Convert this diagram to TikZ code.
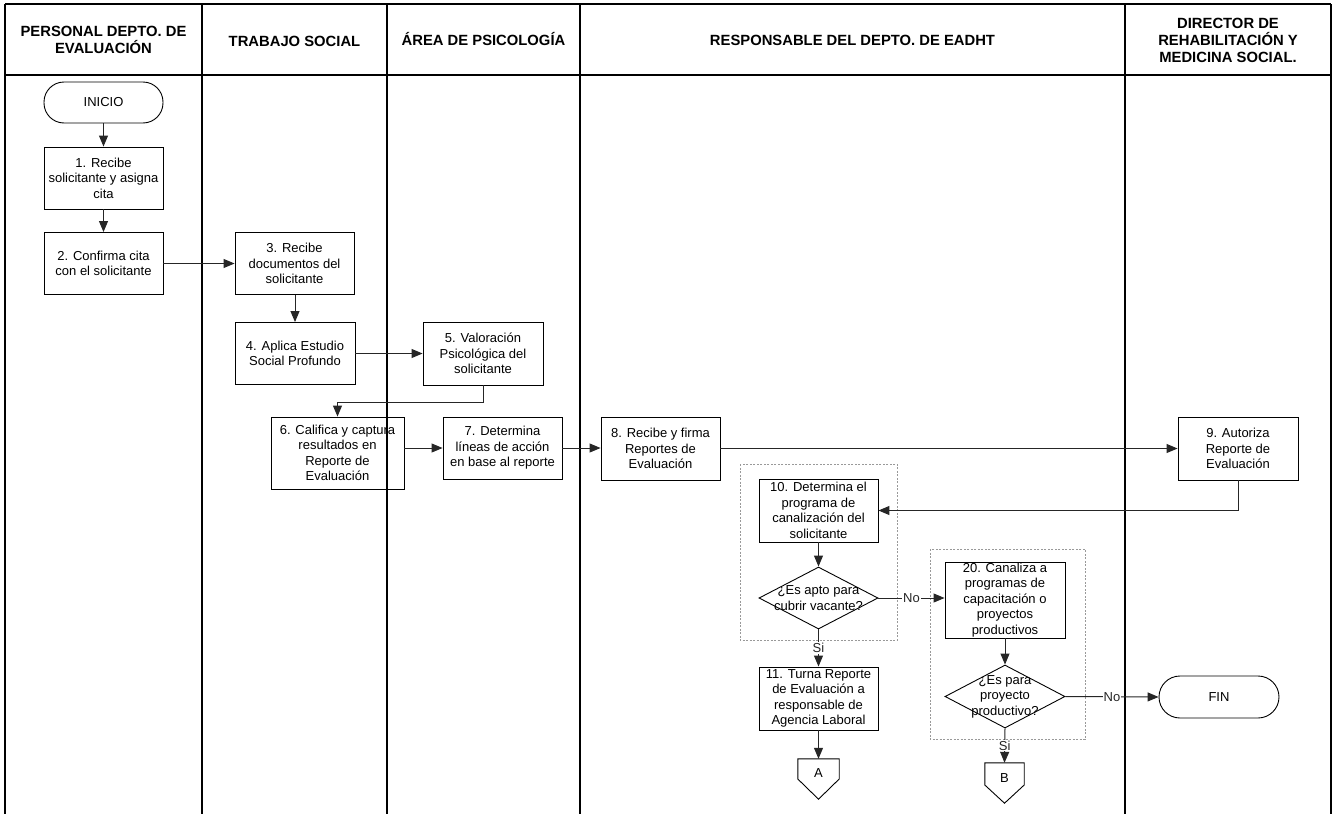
\documentclass[tikz,border=0pt]{standalone}
\usepackage{fontspec}
\setmainfont{Liberation Sans}
\usetikzlibrary{shapes.geometric,arrows.meta,calc}
\begin{document}
\begin{tikzpicture}[x=1pt,y=-1pt,
  lane/.style={line width=2pt,black},
  hdr/.style={align=center,inner sep=0pt,font=\fontsize{14.8}{17}\selectfont\bfseries},
  proc/.style={draw,line width=0.9pt,minimum width=119pt,minimum height=62pt,inner sep=0pt,align=center,font=\fontsize{13}{15.5}\selectfont},
  term/.style={proc,rounded corners=20pt,minimum height=41pt},
  decis/.style={diamond,draw,line width=0.9pt,minimum width=119pt,minimum height=62pt,inner sep=0pt},
  dtext/.style={align=center,inner sep=0pt,font=\fontsize{13}{15.5}\selectfont},
  offpg/.style={minimum width=40pt,minimum height=40pt,inner sep=0pt},
  grp/.style={draw=gray!80,dash pattern=on 2pt off 1.5pt,line width=0.6pt},
  arr/.style={-{Triangle[length=11pt,width=9pt]},line width=1pt,black!85},
  lbl/.style={fill=white,inner sep=1pt,font=\fontsize{13}{15.5}\selectfont}
]
\useasboundingbox (0,0) rectangle (1336,814);
% lanes
\draw[lane] (5,4) -- (1331,4);
\draw[lane] (5,75) -- (1331,75);
\foreach \x in {5,202,387,580,1125,1331} \draw[lane] (\x,4) -- (\x,814);
% headers
\node[hdr] (h1) at (103.5,40) {PERSONAL DEPTO. DE\\EVALUACIÓN};
\node[hdr] (h2) at (294.5,41) {TRABAJO SOCIAL};
\node[hdr] (h3) at (483.5,39) {ÁREA DE PSICOLOGÍA};
\node[hdr] (h4) at (852.5,40) {RESPONSABLE DEL DEPTO. DE EADHT};
\node[hdr] (h5) at (1228,40) {DIRECTOR DE\\REHABILITACIÓN Y\\MEDICINA SOCIAL.};
% dashed groups
\draw[grp] (740,464) rectangle (897,640);
\draw[grp] (930,549) rectangle (1085,739);
% nodes
\node[term] (ini) at (103.5,102.5) {INICIO};
\node[proc] (b1) at (103.5,178) {1. Recibe\\solicitante y asigna\\cita};
\node[proc] (b2) at (103.5,263.5) {2. Confirma cita\\con el solicitante};
\node[proc] (b3) at (294.5,263.5) {3. Recibe\\documentos del\\solicitante};
\node[proc,minimum width=120pt] (b4) at (295,353.5) {4. Aplica Estudio\\Social Profundo};
\node[proc,minimum width=120pt,minimum height=63pt] (b5) at (483,353.5) {5. Valoración\\Psicológica del\\solicitante};
\node[proc,minimum width=133pt,minimum height=72pt] (b6) at (337.5,453) {6. Califica y captura\\resultados en\\Reporte de\\Evaluación};
\node[proc] (b7) at (502.5,448) {7. Determina\\líneas de acción\\en base al reporte};
\node[proc,minimum height=63pt] (b8) at (660.5,448.5) {8. Recibe y firma\\Reportes de\\Evaluación};
\node[proc,minimum width=120pt,minimum height=63pt] (b9) at (1238,448.5) {9. Autoriza\\Reporte de\\Evaluación};
\node[proc,minimum height=63pt] (b10) at (818.5,510.5) {10. Determina el\\programa de\\canalización del\\solicitante};
\node[decis] (d1) at (818.5,598) {};
\node[dtext] (d1t) at (d1.center) {¿Es apto para\\cubrir vacante?};
\node[proc,minimum height=63pt] (b11) at (818.5,698.5) {11. Turna Reporte\\de Evaluación a\\responsable de\\Agencia Laboral};
\node[proc,minimum width=120pt,minimum height=76pt] (b20) at (1005,600) {20. Canaliza a\\programas de\\capacitación o\\proyectos\\productivos};
\node[decis,minimum width=120pt,minimum height=63pt] (d2) at (1005,696.5) {};
\node[dtext] (d2t) at (d2.center) {¿Es para\\proyecto\\productivo?};
\node[term,minimum width=120pt,minimum height=42pt,rounded corners=21pt] (fin) at (1219,697) {FIN};
\node[offpg,minimum width=41pt] (A) at (818.5,779) {};
\draw[line width=0.9pt] (A.north west) -- (A.north east) -- (A.east) -- (A.south) -- (A.west) -- cycle;
\node[dtext] (At) at ($(A.center)+(0,-6)$) {A};
\node[offpg,minimum width=39pt] (B) at (1004.5,783) {};
\draw[line width=0.9pt] (B.north west) -- (B.north east) -- ($(B.east)+(0,2)$) -- (B.south) -- ($(B.west)+(0,2)$) -- cycle;
\node[dtext] (Bt) at ($(B.center)+(0,-5)$) {B};
% connectors
\draw[arr] (ini) -- (b1);
\draw[arr] (b1) -- (b2);
\draw[arr] (b2) -- (b3);
\draw[arr] (b3.south -| b4) -- (b4);
\draw[arr] (b4) -- (b5);
\draw[arr] (b5.south) -- ++(0,17) -| (b6.north);
\draw[arr] (b6.east |- b7) -- (b7);
\draw[arr] (b7) -- (b8.west |- b7);
\draw[arr] (b8) -- (b9);
\draw[arr] (b9.south) |- (b10.east);
\draw[arr] (b10) -- (d1);
\draw[arr] (d1.east) -- node[lbl] {No} (d1.east -| b20.west);
\draw[arr] (d1.south) -- node[lbl] {Si} (b11.north);
\draw[arr] (b11) -- (A.north);
\draw[arr] (b20) -- (d2);
\draw[arr] (d2.east) -- node[lbl] {No} (fin.west);
\draw[arr] (d2.south) -- node[lbl] {Si} (B.north);
\end{tikzpicture}
\end{document}
